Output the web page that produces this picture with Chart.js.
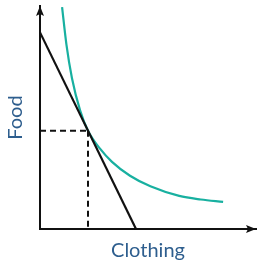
<!DOCTYPE html>
<html>
<head>
<meta charset="utf-8">
<script src="https://cdn.jsdelivr.net/npm/chart.js@4"></script>
<style>
  html, body { margin: 0; padding: 0; background: #fff; }
  #wrap { width: 258px; height: 263px; }
</style>
</head>
<body>
<div id="wrap"><canvas id="chart" width="258" height="263"></canvas></div>
<script>
// values (arbitrary units)
const xLabel = 'Clothing';
const yLabel = 'Food';
const budgetX = [0, 4];
const budgetY = [8.2, 0];
const curveX = [0.92, 1.1, 1.33, 1.67, 2.0, 2.5, 3.0, 3.75, 4.6, 5.8, 6.7, 7.63];
const curveY = [9.25, 7.7, 6.3, 4.95, 4.1, 3.35, 2.8, 2.22, 1.78, 1.38, 1.23, 1.13];
const tangentX = 2;
const tangentY = 4.1;
const xMax = 9;
const yMax = 9.3;

const ink = '#111';
const teal = '#18b0a0';
const labelColor = '#2e5e8e';

const toPoints = (xs, ys) => xs.map((x, i) => ({ x: x, y: ys[i] }));

// arrow heads at the ends of both axes
const arrowPlugin = {
    id: 'arrows',
    afterDraw(chart) {
        const ctx = chart.ctx;
        const a = chart.chartArea;
        ctx.save();
        ctx.fillStyle = ink;
        // up arrow
        ctx.beginPath();
        ctx.moveTo(a.left, a.top);
        ctx.lineTo(a.left + 4, a.top + 10);
        ctx.lineTo(a.left, a.top + 8);
        ctx.lineTo(a.left - 4, a.top + 10);
        ctx.closePath();
        ctx.fill();
        // right arrow
        ctx.beginPath();
        ctx.moveTo(a.right, a.bottom);
        ctx.lineTo(a.right - 10, a.bottom - 4);
        ctx.lineTo(a.right - 8, a.bottom);
        ctx.lineTo(a.right - 10, a.bottom + 4);
        ctx.closePath();
        ctx.fill();
        ctx.restore();
    }
};

new Chart(document.getElementById('chart'), {
    type: 'scatter',
    data: {
        datasets: [
            {
                // dashed guide, horizontal
                data: toPoints([0, tangentX], [tangentY, tangentY]),
                showLine: true,
                borderColor: ink,
                borderWidth: 2,
                borderDash: [6, 4],
                pointRadius: 0
            },
            {
                // dashed guide, vertical
                data: toPoints([tangentX, tangentX], [tangentY, 0]),
                showLine: true,
                borderColor: ink,
                borderWidth: 2,
                borderDash: [6, 4],
                pointRadius: 0
            },
            {
                // budget line
                data: toPoints(budgetX, budgetY),
                showLine: true,
                borderColor: ink,
                borderWidth: 2.2,
                pointRadius: 0
            },
            {
                // indifference curve
                data: toPoints(curveX, curveY),
                showLine: true,
                borderColor: teal,
                borderWidth: 2.2,
                cubicInterpolationMode: 'monotone',
                pointRadius: 0
            }
        ]
    },
    options: {
        responsive: false,
        animation: false,
        events: [],
        clip: false,
        layout: { padding: { left: 3.5, right: 2, top: 6, bottom: 0 } },
        plugins: {
            legend: { display: false },
            tooltip: { enabled: false }
        },
        scales: {
            x: {
                type: 'linear',
                min: 0,
                max: xMax,
                grid: { display: false, drawTicks: false },
                border: { display: true, color: ink, width: 2 },
                ticks: { display: false },
                title: {
                    display: true,
                    text: xLabel,
                    color: labelColor,
                    font: { family: 'Lato', size: 20 },
                    padding: { top: 10, bottom: 0 }
                }
            },
            y: {
                type: 'linear',
                min: 0,
                max: yMax,
                grid: { display: false, drawTicks: false },
                border: { display: true, color: ink, width: 2 },
                ticks: { display: false },
                title: {
                    display: true,
                    text: yLabel,
                    color: labelColor,
                    font: { family: 'Lato', size: 20 },
                    padding: { top: 0, bottom: 12.5 }
                }
            }
        }
    },
    plugins: [arrowPlugin]
});
</script>
</body>
</html>
